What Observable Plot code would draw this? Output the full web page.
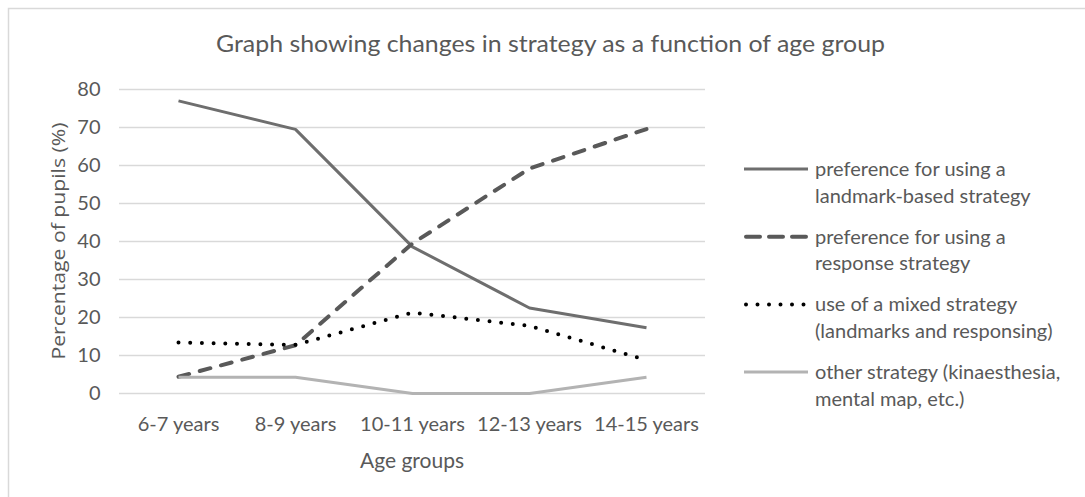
<!DOCTYPE html>
<html>
<head>
<meta charset="utf-8">
<script src="https://cdn.jsdelivr.net/npm/d3@7"></script>
<script src="https://cdn.jsdelivr.net/npm/@observablehq/plot@0.6"></script>
<style>
  html, body { margin: 0; padding: 0; background: #fff; overflow: hidden; }
  #chart { width: 1085px; height: 497px; }
</style>
</head>
<body>
<div id="chart"></div>
<script>
// ---- data ----
const ages = ["6-7 years", "8-9 years", "10-11 years", "12-13 years", "14-15 years"];
const landmark = [77, 69.5, 38.6, 22.5, 17.3];
const response = [4.4, 12.7, 39.5, 59.2, 69.6];
const mixed = [13.4, 12.8, 21.3, 17.8, 8.8];
const other = [4.3, 4.3, 0, 0, 4.3];
const yTicks = [0, 10, 20, 30, 40, 50, 60, 70, 80];
const seriesNames = ["landmark", "response", "mixed", "other"];
const legendLabels = [
  ["preference for using a", "landmark-based strategy"],
  ["preference for using a", "response strategy"],
  ["use of a mixed strategy", "(landmarks and responsing)"],
  ["other strategy (kinaesthesia,", "mental map, etc.)"]
];
const titleText = "Graph showing changes in strategy as a function of age group";
const xLabel = "Age groups";
const yLabel = "Percentage of pupils (%)";

// ---- styles ----
const styles = {
  landmark: {stroke: "#6e6e6e", strokeWidth: 3, strokeDasharray: null, strokeLinecap: "butt", legendDash: null},
  response: {stroke: "#595959", strokeWidth: 4, strokeDasharray: "11,11", strokeLinecap: "round", legendDash: "14,9"},
  mixed:    {stroke: "#000000", strokeWidth: 4, strokeDasharray: "0,11.7", strokeLinecap: "round", legendDash: "0,11.5"},
  other:    {stroke: "#b3b3b3", strokeWidth: 3, strokeDasharray: null, strokeLinecap: "butt", legendDash: null}
};
const valuesBy = {landmark, response, mixed, other};
const rows = seriesNames.flatMap(s => ages.map((a, i) => ({series: s, age: a, value: valuesBy[s][i]})));

const textColor = "#595959";
const W = 1085, H = 497;
const mL = 119, mR = 380, mT = 89, mB = 104;

const svg = Plot.plot({
  width: W, height: H,
  marginLeft: mL, marginRight: mR, marginTop: mT, marginBottom: mB,
  style: {fontFamily: "Lato, sans-serif", fontSize: "20px", color: textColor, background: "#fff"},
  x: {type: "point", domain: ages, padding: 0.5, label: null},
  y: {domain: [0, 80], label: null},
  marks: [
    Plot.gridY(yTicks, {stroke: "#d9d9d9", strokeOpacity: 1, strokeWidth: 1.5}),
    Plot.axisY(yTicks, {tickSize: 0, tickPadding: 19, fontSize: 20, label: null, fill: textColor}),
    Plot.axisX(ages, {tickSize: 0, tickPadding: 23, fontSize: 20, label: null, fill: textColor}),
    ...seriesNames.map(s => Plot.lineY(rows.filter(d => d.series === s), {
      x: "age", y: "value",
      stroke: styles[s].stroke,
      strokeWidth: styles[s].strokeWidth,
      strokeDasharray: styles[s].strokeDasharray,
      strokeLinecap: styles[s].strokeLinecap,
      strokeLinejoin: "round"
    }))
  ]
});
document.getElementById("chart").appendChild(svg);

// ---- annotations (title, axis labels, legend, border) ----
const g = d3.select(svg).append("g").attr("fill", textColor).attr("text-anchor", "start");

g.append("rect").attr("x", 8.5).attr("y", 8.5).attr("width", W + 20).attr("height", H + 20)
  .attr("fill", "none").attr("stroke", "#d9d9d9").attr("stroke-width", 1.5);

g.append("text").text(titleText)
  .attr("x", 550.5).attr("y", 52).attr("text-anchor", "middle")
  .attr("font-family", "Lato, sans-serif").attr("font-size", 23.5)
  .attr("textLength", 669).attr("lengthAdjust", "spacingAndGlyphs");

g.append("text").text(xLabel)
  .attr("x", mL + (W - mL - mR) / 2).attr("y", 468).attr("text-anchor", "middle")
  .attr("font-family", "Lato, sans-serif").attr("font-size", 21);

g.append("text").text(yLabel)
  .attr("transform", `translate(65, ${mT + (H - mT - mB) / 2}) rotate(-90)`)
  .attr("text-anchor", "middle")
  .attr("font-family", "'Open Sans', sans-serif").attr("font-size", 19)
  .attr("textLength", 237).attr("lengthAdjust", "spacingAndGlyphs");

const legendY0 = 169, legendStep = 67.7, lineGap = 26.5;
seriesNames.forEach((s, i) => {
  const y = legendY0 + i * legendStep;
  const cap = styles[s].strokeLinecap;
  const inset = cap === "round" ? styles[s].strokeWidth / 2 : 0;
  g.append("line").attr("x1", 744 + inset).attr("x2", 808 - inset).attr("y1", y).attr("y2", y)
    .attr("stroke", styles[s].stroke).attr("stroke-width", styles[s].strokeWidth)
    .attr("stroke-dasharray", styles[s].legendDash)
    .attr("stroke-linecap", cap);
  legendLabels[i].forEach((t, j) => {
    g.append("text").text(t)
      .attr("x", 815).attr("y", y + 7 + j * lineGap)
      .attr("text-anchor", "start")
      .attr("font-family", "Lato, sans-serif").attr("font-size", 20);
  });
});
</script>
</body>
</html>
